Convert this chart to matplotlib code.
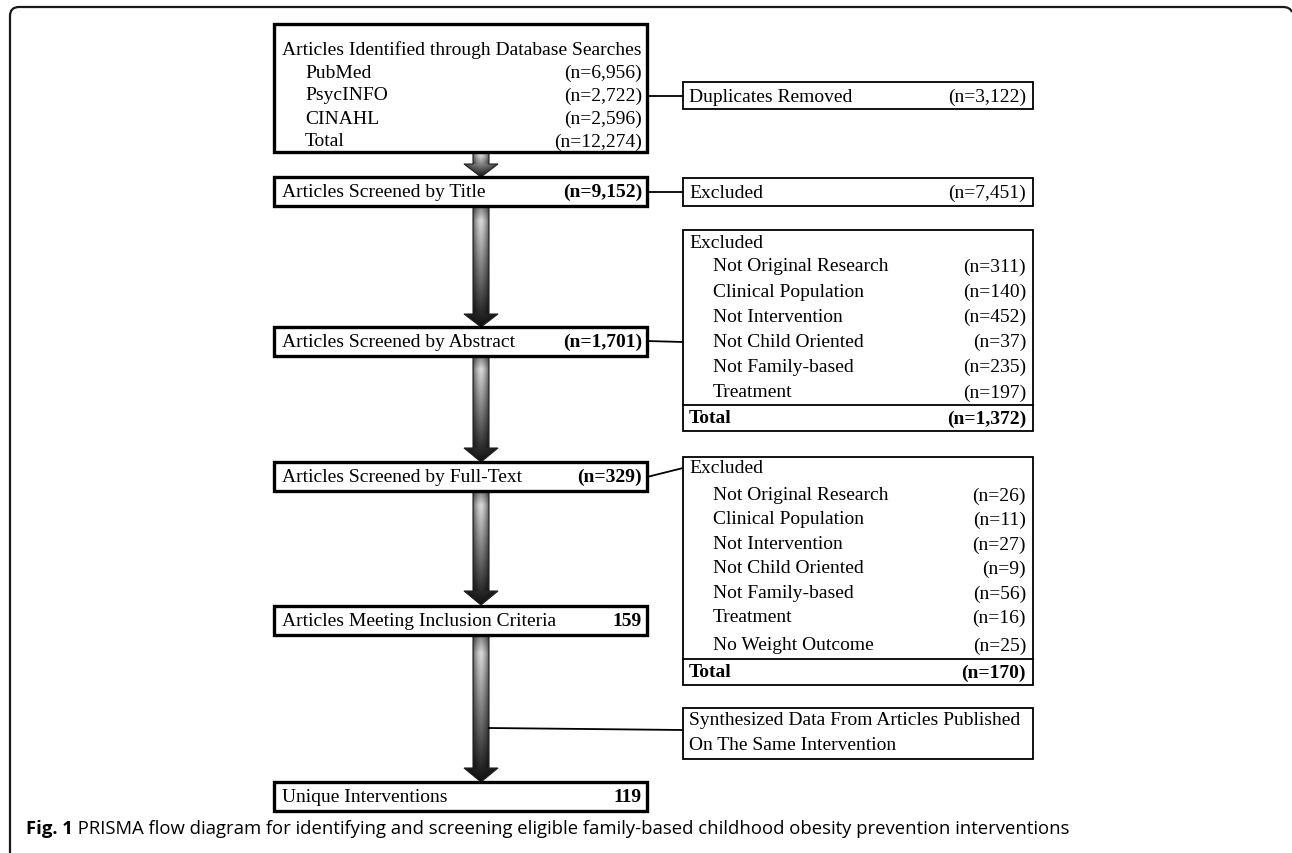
import numpy as np
import matplotlib
matplotlib.use("Agg")
import matplotlib.pyplot as plt
from matplotlib.patches import Rectangle, Polygon, PathPatch
from matplotlib.path import Path

# --- data -------------------------------------------------------------
search_title = "Articles Identified through Database Searches"
search_sources = ["PubMed", "PsycINFO", "CINAHL", "Total"]
search_counts = ["(n=6,956)", "(n=2,722)", "(n=2,596)", "(n=12,274)"]

stage_labels = ["Articles Screened by Title", "Articles Screened by Abstract",
                "Articles Screened by Full-Text", "Articles Meeting Inclusion Criteria",
                "Unique Interventions"]
stage_counts = ["(n=9,152)", "(n=1,701)", "(n=329)", "159", "119"]

dup_label, dup_count = "Duplicates Removed", "(n=3,122)"
title_excl_label, title_excl_count = "Excluded", "(n=7,451)"

abs_reasons = ["Not Original Research", "Clinical Population", "Not Intervention",
               "Not Child Oriented", "Not Family-based", "Treatment"]
abs_counts = ["(n=311)", "(n=140)", "(n=452)", "(n=37)", "(n=235)", "(n=197)"]
abs_total = "(n=1,372)"

full_reasons = ["Not Original Research", "Clinical Population", "Not Intervention",
                "Not Child Oriented", "Not Family-based", "Treatment", "No Weight Outcome"]
full_counts = ["(n=26)", "(n=11)", "(n=27)", "(n=9)", "(n=56)", "(n=16)", "(n=25)"]
full_total = "(n=170)"

synth_lines = ["Synthesized Data From Articles Published", "On The Same Intervention"]

caption_bold = "Fig. 1"
caption_text = (" PRISMA flow diagram for identifying and screening eligible "
                "family-based childhood obesity prevention interventions")

# --- figure in pixel coordinates --------------------------------------
W, H = 1292, 854
fig = plt.figure(figsize=(W / 100, H / 100), dpi=100)
ax = fig.add_axes([0, 0, 1, 1])
ax.set_xlim(0, W)
ax.set_ylim(H, 0)
ax.axis("off")

SERIF = "Liberation Serif"
FS = 14

def txt(x, y, s, ha="left", bold=False, size=FS):
    ax.text(x, y, s, ha=ha, va="center", fontsize=size, family=SERIF,
            fontweight="bold" if bold else "normal", color="black", zorder=5)

def box(x0, y0, x1, y1, lw):
    ax.add_patch(Rectangle((x0, y0), x1 - x0, y1 - y0, facecolor="white",
                           edgecolor="black", lw=lw, zorder=3))

def arrow(cx, y0, yh, y1, sw=8, hw=17):
    pts = [(cx - sw, y0), (cx + sw, y0), (cx + sw, yh), (cx + hw, yh),
           (cx, y1), (cx - hw, yh), (cx - sw, yh)]
    poly = Polygon(pts, closed=True, facecolor="none", edgecolor="#222222",
                   lw=0.8, zorder=2)
    ax.add_patch(poly)
    ny, nx = 200, 60
    yy = np.linspace(0, 1, ny)[:, None]
    xx = np.linspace(-1, 1, nx)[None, :]
    t = yy
    vert = np.where(t < 0.12, 0.5 + (0.85 - 0.5) * t / 0.12,
                    0.85 - (0.85 - 0.06) * (t - 0.12) / 0.88)
    rows_y = y0 + yy * (y1 - y0)
    local = np.where(rows_y < yh, sw / hw, 1.0)
    u = np.clip(np.abs(xx) / local, 0, 1)
    horiz = 1 - 0.55 * u ** 1.6
    g = np.clip(vert * horiz, 0, 1)
    img = np.dstack([g, g, g])
    im = ax.imshow(img, extent=(cx - hw, cx + hw, y1, y0), origin="upper",
                   aspect="auto", zorder=1, interpolation="bilinear")
    clip = Polygon(pts, closed=True, transform=ax.transData)
    im.set_clip_path(clip)

# --- outer frame ------------------------------------------------------
frame = Path([(10, H), (10, 17), (10, 8), (19, 8), (1283, 8), (1290, 8), (1292, 13)],
             [Path.MOVETO, Path.LINETO, Path.CURVE3, Path.CURVE3, Path.LINETO,
              Path.CURVE3, Path.CURVE3])
ax.add_patch(PathPatch(frame, facecolor="none", edgecolor="#1a1a1a", lw=1.6, zorder=1))

# --- main column -------------------------------------------------------
LX0, LX1 = 274, 647
TX, IX, RX = 282, 305, 642
CX = 481
THICK = 2.4

arrow(CX, 153, 165, 178)
arrow(CX, 207, 315, 328)
arrow(CX, 357, 449, 463)
arrow(CX, 492, 592, 606)
arrow(CX, 636, 769, 783)

box(LX0, 25, LX1, 153, THICK)
txt(TX, 50, search_title)
for i, (s, c) in enumerate(zip(search_sources, search_counts)):
    y = 73 + i * 23
    txt(IX, y, s)
    txt(RX, y, c, ha="right")

stage_y = [(178, 207), (328, 357), (463, 492), (607, 636), (783, 812)]
for (y0, y1), s, c in zip(stage_y, stage_labels, stage_counts):
    box(LX0, y0, LX1, y1, THICK)
    yc = (y0 + y1) / 2
    txt(TX, yc, s)
    txt(RX, yc, c, ha="right", bold=True)

# --- right column ------------------------------------------------------
RX0, RX1 = 683, 1033
RTX, RIX, RRX = 689, 713, 1026
THIN = 1.3

def link(x0, y0, x1, y1):
    ax.plot([x0, x1], [y0, y1], color="black", lw=1.3, zorder=2)

link(LX1, 97, RX0, 97)
box(RX0, 83, RX1, 110, THIN)
txt(RTX, 97, dup_label)
txt(RRX, 97, dup_count, ha="right")

link(LX1, 193, RX0, 193)
box(RX0, 179, RX1, 207, THIN)
txt(RTX, 193, title_excl_label)
txt(RRX, 193, title_excl_count, ha="right")

link(LX1, 342, RX0, 343)
box(RX0, 231, RX1, 432, THIN)
txt(RTX, 243, "Excluded")
for i, (s, c) in enumerate(zip(abs_reasons, abs_counts)):
    y = 267 + i * 25.2
    txt(RIX, y, s)
    txt(RRX, y, c, ha="right")
ax.plot([RX0, RX1], [406, 406], color="black", lw=THIN, zorder=4)
txt(RTX, 419, "Total", bold=True)
txt(RRX, 419, abs_total, ha="right", bold=True)

link(LX1, 478, RX0, 469)
box(RX0, 458, RX1, 686, THIN)
txt(RTX, 469, "Excluded")
full_y = [496, 520, 545, 569, 594, 618, 646]
for y, s, c in zip(full_y, full_reasons, full_counts):
    txt(RIX, y, s)
    txt(RRX, y, c, ha="right")
ax.plot([RX0, RX1], [660, 660], color="black", lw=THIN, zorder=4)
txt(RTX, 673, "Total", bold=True)
txt(RRX, 673, full_total, ha="right", bold=True)

link(CX + 8, 729, RX0, 731)
box(RX0, 709, RX1, 760, THIN)
txt(RTX, 721, synth_lines[0])
txt(RTX, 746, synth_lines[1])

# --- caption -----------------------------------------------------------
CAP_FS = 13.3
cap = ax.text(26, 829, caption_bold, ha="left", va="center", fontsize=CAP_FS,
              family="Open Sans", fontweight="bold", zorder=5)
fig.canvas.draw()
bb = cap.get_window_extent()
x_end = ax.transData.inverted().transform((bb.x1, bb.y0))[0]
ax.text(x_end, 829, caption_text, ha="left", va="center", fontsize=CAP_FS,
        family="Open Sans", zorder=5)

fig.savefig("out.png", dpi=100, facecolor="white")
